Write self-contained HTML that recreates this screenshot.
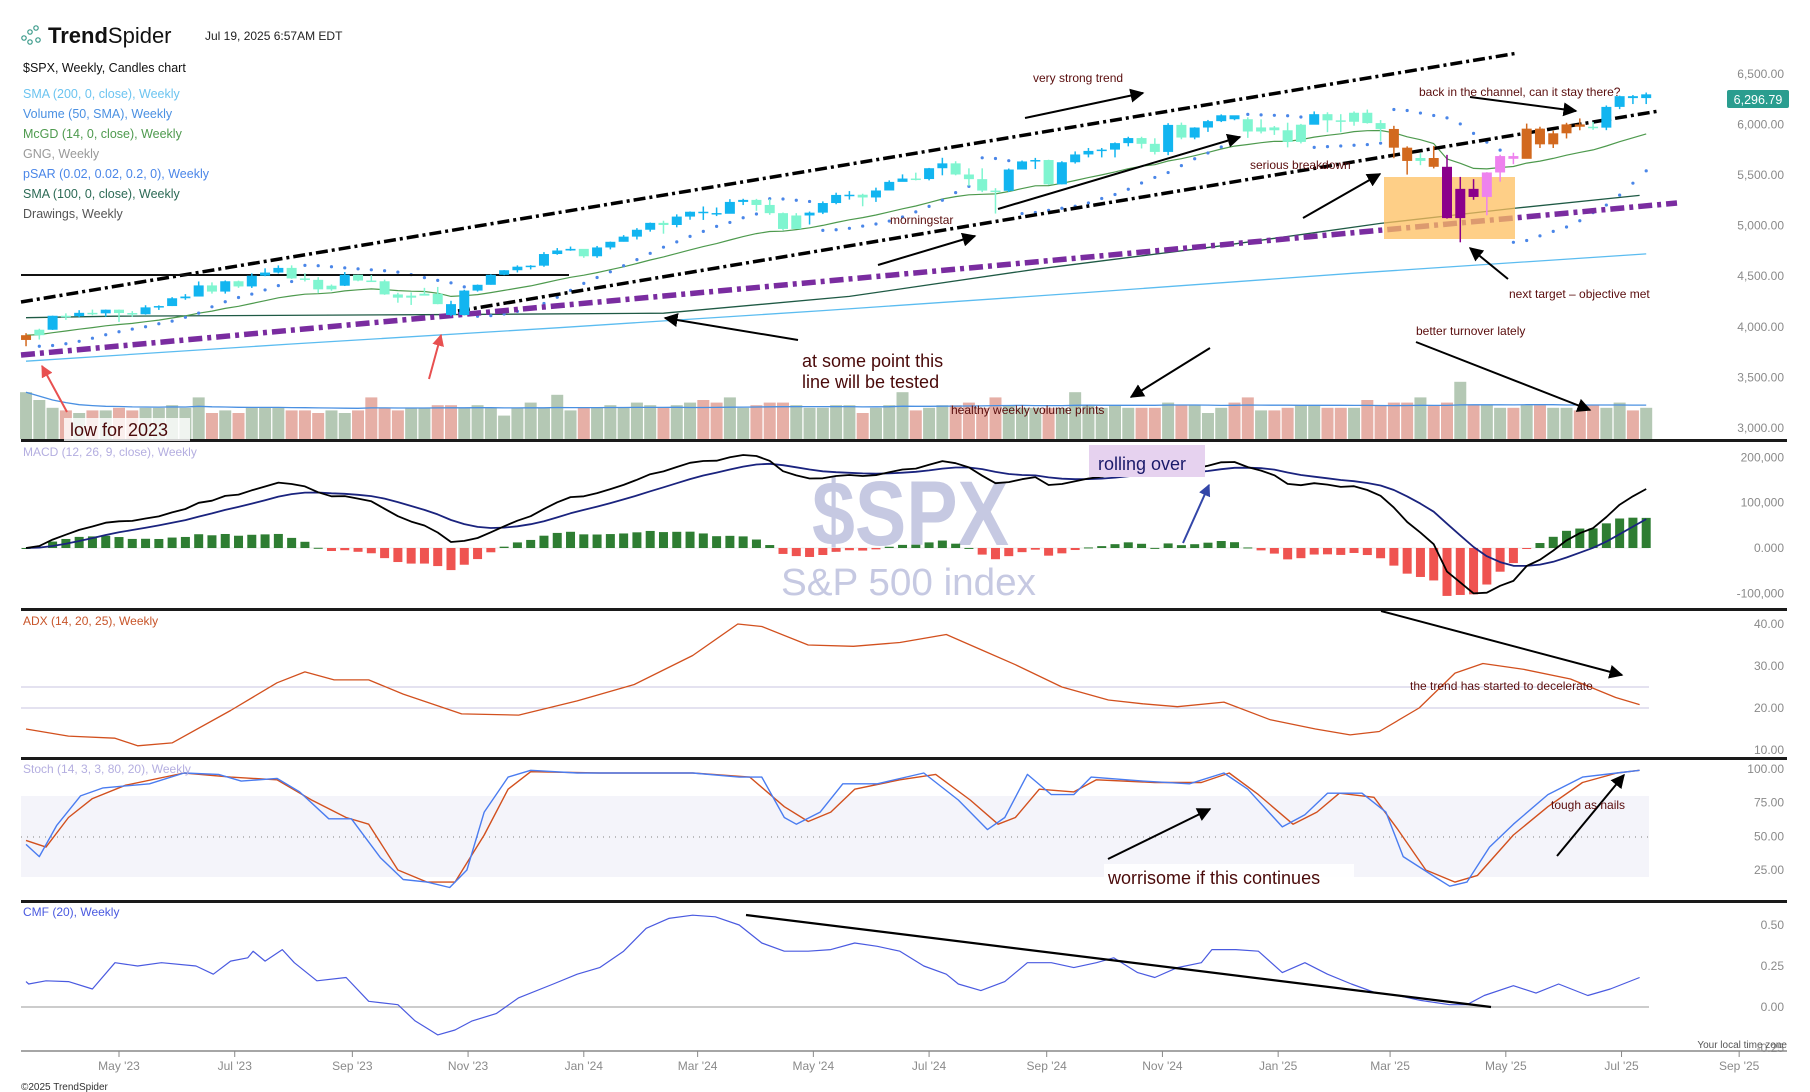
<!DOCTYPE html>
<html><head><meta charset="utf-8">
<style>
html,body{margin:0;padding:0;background:#fff;}
svg{display:block;font-family:"Liberation Sans",sans-serif;}
.lg{font-size:12.5px;}
.ax{font-size:12px;fill:#8a8a8a;}
.ann{font-size:12px;fill:#5a0d0d;}
.big{font-size:18px;fill:#4a0a0a;}
</style></head>
<body>
<svg id="chart" width="1810" height="1092" viewBox="0 0 1810 1092" xmlns="http://www.w3.org/2000/svg">
<defs>
<marker id="ah" viewBox="0 0 10 10" refX="9" refY="5" markerWidth="7" markerHeight="7" orient="auto-start-reverse"><path d="M0,0 L10,5 L0,10 z" fill="#000"/></marker>
<marker id="ahr" viewBox="0 0 10 10" refX="9" refY="5" markerWidth="6" markerHeight="6" orient="auto"><path d="M0,0 L10,5 L0,10 z" fill="#e85050"/></marker>
<marker id="ahb" viewBox="0 0 10 10" refX="9" refY="5" markerWidth="6" markerHeight="6" orient="auto"><path d="M0,0 L10,5 L0,10 z" fill="#3346a8"/></marker>
</defs>

<g>
<circle cx="24" cy="38" r="2.2" fill="none" stroke="#3a9a8a" stroke-width="1.2"/>
<circle cx="30" cy="32" r="2.2" fill="none" stroke="#3a9a8a" stroke-width="1.2"/>
<circle cx="36" cy="28" r="2.2" fill="none" stroke="#3a9a8a" stroke-width="1.2"/>
<circle cx="30" cy="42" r="2.2" fill="none" stroke="#3a9a8a" stroke-width="1.2"/>
<circle cx="38" cy="40" r="2.2" fill="none" stroke="#3a9a8a" stroke-width="1.2"/>
<text x="48" y="43" font-size="22" font-weight="bold" fill="#111">Trend<tspan font-weight="normal">Spider</tspan></text>
</g>
<text x="205" y="40" font-size="12" fill="#222">Jul 19, 2025 6:57AM EDT</text>
<text class="lg" x="23" y="72" fill="#111">$SPX, Weekly, Candles chart</text>
<text class="lg" x="23" y="98" fill="#6cc4f0">SMA (200, 0, close), Weekly</text>
<text class="lg" x="23" y="118" fill="#4a90e2">Volume (50, SMA), Weekly</text>
<text class="lg" x="23" y="138" fill="#4e9a4e">McGD (14, 0, close), Weekly</text>
<text class="lg" x="23" y="158" fill="#999">GNG, Weekly</text>
<text class="lg" x="23" y="178" fill="#4a86e8">pSAR (0.02, 0.02, 0.2, 0), Weekly</text>
<text class="lg" x="23" y="198" fill="#2c6a55">SMA (100, 0, close), Weekly</text>
<text class="lg" x="23" y="218" fill="#555">Drawings, Weekly</text>

<text x="812" y="545" font-size="92" font-weight="bold" fill="#c6c9e2" textLength="197" lengthAdjust="spacingAndGlyphs">$SPX</text>
<text x="781" y="595" font-size="38" fill="#c6c9e2" textLength="255" lengthAdjust="spacingAndGlyphs">S&amp;P 500 index</text>

<rect x="21" y="796" width="1628" height="81" fill="#f4f4fa"/>
<line x1="21" y1="837" x2="1649" y2="837" stroke="#999" stroke-dasharray="1,5" stroke-width="1.2"/>
<line x1="21" y1="687" x2="1649" y2="687" stroke="#c9c6e0" stroke-width="1"/>
<line x1="21" y1="708" x2="1649" y2="708" stroke="#c9c6e0" stroke-width="1"/>
<line x1="21" y1="1007" x2="1649" y2="1007" stroke="#bbb" stroke-width="1.5"/>
<line x1="21" y1="548" x2="1649" y2="548" stroke="#eee" stroke-width="1"/>

<g id="gMain"></g>
<g id="gInd"></g>

<rect x="21" y="439" width="1766" height="3" fill="#1a1a1a"/>
<rect x="21" y="608" width="1766" height="3" fill="#1a1a1a"/>
<rect x="21" y="757" width="1766" height="3" fill="#1a1a1a"/>
<rect x="21" y="900" width="1766" height="3" fill="#1a1a1a"/>
<line x1="21" y1="1051" x2="1787" y2="1051" stroke="#888" stroke-width="1.5"/>

<text x="23" y="456" font-size="12" fill="#b4aee0">MACD (12, 26, 9, close), Weekly</text>
<text x="23" y="625" font-size="12" fill="#c8552a">ADX (14, 20, 25), Weekly</text>
<text x="23" y="773" font-size="12" fill="#b4aee0">Stoch (14, 3, 3, 80, 20), Weekly</text>
<text x="23" y="916" font-size="12" fill="#4a5ae0">CMF (20), Weekly</text>

<g>
<line x1="21" y1="302" x2="1518" y2="53" stroke="#000" stroke-width="3.5" stroke-dasharray="12,4,3,4"/>
<line x1="458" y1="311" x2="1659" y2="111" stroke="#000" stroke-width="3.5" stroke-dasharray="12,4,3,4"/>
<line x1="21" y1="355" x2="1677" y2="203" stroke="#7a2ca0" stroke-width="5.5" stroke-dasharray="14,5,4,5"/>
<line x1="21" y1="275" x2="569" y2="275" stroke="#111" stroke-width="2"/>
<rect x="1384" y="177" width="131" height="62" fill="#fdbf5f" fill-opacity="0.75"/>
</g>
<g id="gCandles"></g>

<g stroke="#000" stroke-width="2" fill="none">
<line x1="1025" y1="118" x2="1143" y2="93" marker-end="url(#ah)"/>
<line x1="998" y1="209" x2="1240" y2="137" marker-end="url(#ah)"/>
<line x1="878" y1="265" x2="975" y2="236" marker-end="url(#ah)"/>
<line x1="1303" y1="218" x2="1380" y2="174" marker-end="url(#ah)"/>
<line x1="1470" y1="97" x2="1576" y2="111" marker-end="url(#ah)"/>
<line x1="1508" y1="279" x2="1470" y2="248" marker-end="url(#ah)"/>
<line x1="1416" y1="342" x2="1590" y2="410" marker-end="url(#ah)"/>
<line x1="798" y1="340" x2="665" y2="318" marker-end="url(#ah)"/>
<line x1="1210" y1="348" x2="1131" y2="397" marker-end="url(#ah)"/>
<line x1="1381" y1="611" x2="1622" y2="675" marker-end="url(#ah)"/>
<line x1="1108" y1="859" x2="1210" y2="809" marker-end="url(#ah)"/>
<line x1="1557" y1="856" x2="1624" y2="775" marker-end="url(#ah)"/>
<line x1="746" y1="915" x2="1491" y2="1007" stroke-width="2.2"/>
<line x1="67" y1="412" x2="42" y2="366" stroke="#e85050" marker-end="url(#ahr)"/>
<line x1="429" y1="379" x2="441" y2="335" stroke="#e85050" marker-end="url(#ahr)"/>
<line x1="1183" y1="543" x2="1209" y2="485" stroke="#3346a8" marker-end="url(#ahb)"/>
</g>
<text class="ann" x="1033" y="82">very strong trend</text>
<text class="ann" x="890" y="224">morningstar</text>
<text class="ann" x="1250" y="169">serious breakdown</text>
<text class="ann" x="1419" y="96">back in the channel, can it stay there?</text>
<text class="ann" x="1509" y="298">next target – objective met</text>
<text class="ann" x="1416" y="335">better turnover lately</text>
<text class="ann" x="951" y="414">healthy weekly volume prints</text>
<text class="big" x="802" y="367">at some point this</text>
<text class="big" x="802" y="388">line will be tested</text>
<rect x="64" y="418" width="126" height="23" fill="#fff" fill-opacity="0.8"/>
<text class="big" x="70" y="436">low for 2023</text>
<rect x="1089" y="445" width="116" height="32" fill="#e6d2ef"/>
<text x="1098" y="470" font-size="18" fill="#1a1a6a">rolling over</text>
<text class="ann" x="1410" y="690">the trend has started to decelerate</text>
<rect x="1104" y="864" width="250" height="24" fill="#fff" fill-opacity="0.85"/>
<text class="big" x="1108" y="884">worrisome if this continues</text>
<text class="ann" x="1551" y="809">tough as nails</text>

<g id="gAxis"></g>
<rect x="1727" y="90" width="62" height="18" rx="2" fill="#2a9d8f"/>
<text x="1758" y="104" font-size="12.5" fill="#fff" text-anchor="middle">6,296.79</text>
<text x="1787" y="1048" font-size="10" fill="#555" text-anchor="end">Your local time zone</text>
<text x="21" y="1090" font-size="10" fill="#333">©2025 TrendSpider</text>
</svg>
<script>
const closes=[3917,3971,4109,4105,4138,4133,4169,4136,4124,4192,
4205,4282,4299,4409,4348,4450,4399,4505,4536,4582,
4478,4464,4370,4406,4515,4457,4450,4320,4288,4308,
4327,4224,4117,4358,4415,4514,4559,4594,4604,4719,
4754,4770,4697,4784,4840,4891,4959,5027,5006,5089,
5137,5124,5117,5234,5254,5204,5123,4967,5100,5128,
5223,5303,5305,5278,5347,5432,5465,5460,5567,5615,
5505,5459,5346,5344,5554,5634,5648,5408,5626,5703,
5738,5751,5815,5865,5808,5728,5995,5870,5969,6032,
6090,6051,5930,5970,5942,5827,5997,6101,6040,6026,
6115,6013,5955,5770,5639,5668,5581,5074,5363,5283,
5525,5687,5660,5958,5803,5912,6000,5977,5968,6173,
6279,6260,6297];
const highs=[3937,3981,4110,4133,4164,4170,4170,4170,4155,4213,
4212,4293,4323,4448,4439,4458,4456,4528,4578,4607,
4607,4528,4490,4418,4541,4514,4511,4466,4336,4340,
4385,4394,4257,4366,4418,4519,4560,4607,4609,4738,
4778,4793,4755,4799,4842,4906,4975,5030,5048,5111,
5140,5189,5179,5261,5265,5264,5263,5129,5123,5139,
5239,5325,5341,5315,5375,5447,5506,5523,5570,5670,
5636,5566,5566,5370,5564,5643,5669,5651,5636,5733,
5767,5767,5822,5878,5878,5863,6012,6018,5972,6044,
6099,6085,6070,6050,5984,6017,6005,6128,6120,6101,
6128,6147,6043,5986,5783,5715,5786,5699,5481,5459,
5528,5700,5720,6008,5977,5938,6016,6059,6024,6187,
6284,6290,6315];
const lows=[3808,3874,3969,4069,4095,4114,4100,4048,4099,4120,
4167,4205,4267,4305,4328,4328,4385,4384,4500,4527,
4474,4448,4335,4356,4403,4450,4444,4316,4238,4216,
4311,4223,4104,4113,4348,4416,4510,4537,4567,4593,
4712,4751,4682,4682,4765,4842,4863,4940,4920,4983,
5058,5056,5094,5126,5203,5146,5107,4953,5011,5011,
5114,5211,5257,5191,5234,5358,5452,5447,5447,5497,
5497,5390,5331,5119,5332,5560,5559,5402,5407,5613,
5674,5674,5674,5783,5762,5703,5696,5853,5853,5926,
6023,6041,5867,5911,5896,5773,5812,6000,5923,5923,
5987,6008,5837,5666,5504,5597,5565,5069,4835,5255,
5102,5434,5607,5734,5767,5767,5861,5942,5946,5943,
6151,6201,6201];
const gngCodes="OABABABAAB"+"BBBBABABBB"+"AAAABAAAAA"+"AABBBBBBBB"+"BBABBBBBAB"+"BBBBBAAAAB"+"BBBABBBABB"+"AAAABBBABB"+"BBBBAABABB"+"BBAAAAABAA"+"AAAOOAOPPP"+"KKKOOOOOAB"+"BBB";
const volumes=[18,15,12,11,10,11,11,12,11,12,
12,13,12,16,10,11,10,12,12,12,
11,11,10,11,10,11,16,12,11,12,
12,13,13,12,13,12,9,12,14,12,
17,11,12,12,13,12,14,13,12,13,
14,15,14,16,12,13,14,14,13,12,
12,13,13,10,12,13,18,11,12,13,
13,14,12,16,13,12,12,12,12,18,
13,12,13,12,12,12,14,13,13,10,
12,14,16,11,11,12,13,13,12,12,
12,15,13,14,14,16,13,14,22,13,
13,12,12,13,13,12,12,11,13,12,
14,11,12];
const sma200W=[0,20,40,60,80,100,122];
const sma200V=[3660,3830,3990,4160,4340,4530,4720];
const sma100W=[0,6.7,30,48,62,76,90,102,112,121.5];
const sma100V=[4090,4105,4120,4134,4300,4568,4800,5022,5170,5298];
const adxW=[0,3.2,6.7,8.4,11,15.4,18.9,21,23.2,25.8,28.4,32.8,37.1,41.5,45.8,50.2,53.6,55.4,58.9,62.3,65.8,69.3,71.9,74.5,78,81.5,84.1,86.7,90.2,93.7,97.1,99.7,101.9,104.9,107.6,109.7,112.8,116.3,119.7,121.5];
const adxV=[15,13.3,12.8,11,11.7,19.4,26,28.6,26.7,26.7,23.3,18.6,18.3,21.7,25.6,32.5,40,39.4,35,34.7,35.6,37.5,33.9,30.3,25,21.9,21,20.3,21.4,17.2,15,13.6,14.4,20,28.3,30.6,29.2,26.9,22.5,20.8];
const stochKW=[0,1,2.3,4.1,5.8,9.3,11.9,14.5,16.2,18.9,20.6,22.8,24.5,26.7,28.4,30.2,31.9,33.2,34.5,36.3,38,41.5,45,50.2,53.7,55.4,57.1,58,59.8,61.5,64.1,67.6,70.2,72.4,73.7,75.4,77.2,78.9,80.2,84.1,87.6,90.2,92,94.6,96.3,98,100.6,102.4,103.7,105.9,107.2,108.5,110.2,112,114.6,117.2,119.8,121.5];
const stochKV=[44,35,58,80,86,89,97,96,91,93,83,63,63,34,18,16,12,25,68,94,99,97,97,97,94,94,64,59,68,89,89,97,77,55,64,96,81,81,94,91,89,97,85,57,66,82,82,68,35,21,13,16,42,59,81,94,97,99];
const stochDW=[0,1.5,3.2,5,7.5,11.9,15.4,18.9,21.5,24.1,25.8,28,30.2,32.3,34.5,36.3,38,43.2,50.2,54.5,57.1,58.9,60.6,62.4,65.8,68.5,71.1,73.2,74.5,76.3,78.9,80.6,85,88.5,90.6,92.8,95.4,97.2,98.9,101.5,103.3,105.4,107.6,109.3,112,114.6,117.2,119.8,121.5];
const stochDV=[47,42,64,78,88,97,94,92,77,64,59,25,16,16,51,85,98,97,97,94,72,61,68,85,92,96,77,59,64,85,83,92,90,90,97,81,59,68,82,79,55,25,16,21,51,72,90,97,99];
const cmfW=[0,0.2,1.5,3.2,5,6.7,8.4,10.2,12.8,14.1,15.4,16.7,17.1,18,19.3,20.2,21.9,24.1,25.8,28,29.3,31,32.3,33.6,35.4,37.1,39.7,41.5,43.2,45,46.7,48.4,50.2,51.9,53.7,55.4,57.1,58.9,60.6,62.4,64.1,65.8,67.6,69.3,70.2,71.9,73.7,75.4,77.2,78.9,80.6,81.9,83.7,85,86.7,88.5,89.3,91.1,92.8,94.6,96.3,98,99.8,101.5,103.3,105,107.2,108.5,109.8,112,113.7,115.4,117.6,119.3,121.5];
const cmfV=[.155,.14,.16,.155,.11,.27,.25,.27,.25,.2,.28,.3,.34,.28,.35,.27,.16,.18,.035,.014,-.085,-.17,-.14,-.085,-.04,.056,.14,.2,.24,.34,.48,.54,.56,.55,.5,.39,.34,.34,.35,.39,.37,.34,.25,.2,.14,.1,.155,.27,.27,.24,.27,.3,.21,.18,.24,.27,.35,.35,.34,.21,.27,.2,.14,.09,.07,.04,.014,.014,.07,.13,.085,.14,.07,.11,.18];
const priceTicks=[3000,3500,4000,4500,5000,5500,6000,6500];
const macdTicks=[-100000,0,100000,200000];
const macdTickLabels=["-100,000","0.000","100,000","200,000"];
const adxTicks=[10,20,30,40];
const stochTicks=[25,50,75,100];
const cmfTicks=[-0.25,0,0.25,0.5];
const monthLabels=["May '23","Jul '23","Sep '23","Nov '23","Jan '24","Mar '24","May '24","Jul '24","Sep '24","Nov '24","Jan '25","Mar '25","May '25","Jul '25","Sep '25"];
const monthDates=["2023-05-01","2023-07-01","2023-09-01","2023-11-01","2024-01-01","2024-03-01","2024-05-01","2024-07-01","2024-09-01","2024-11-01","2025-01-01","2025-03-01","2025-05-01","2025-07-01","2025-09-01"];

const NS="http://www.w3.org/2000/svg";
const x=w=>119+(w-7)*13.28;
const yP=p=>428-(p-3000)*0.1012;
const yM=v=>548-v*0.000453;
const yA=v=>624+(40-v)*4.2;
const yS=v=>769+(100-v)*1.347;
const yC=v=>1007-v*164;
const t0=Date.UTC(2023,2,13);
const wOfDate=s=>{const p=s.split('-');return (Date.UTC(+p[0],+p[1]-1,+p[2])-t0)/604800000;};
function mk(tag,parent,attrs){const e=document.createElementNS(NS,tag);for(const k in attrs)e.setAttribute(k,attrs[k]);parent.appendChild(e);return e;}
const gMain=document.getElementById('gMain'),gInd=document.getElementById('gInd'),gC=document.getElementById('gCandles'),gAx=document.getElementById('gAxis');
function poly(parent,W,V,fy,stroke,sw,name){
  const n=Math.min(W.length,V.length);let pts=[];
  for(let i=0;i<n;i++)pts.push(x(W[i]).toFixed(1)+','+fy(V[i]).toFixed(1));
  const e=mk('polyline',parent,{points:pts.join(' '),fill:'none',stroke:stroke,'stroke-width':sw,'stroke-linejoin':'round'});
  
  
  return e;
}
const N=closes.length;
const opens=closes.map((c,i)=>i?closes[i-1]:3870);

let volSma=[];
for(let i=0;i<N;i++){
  const up=closes[i]>=opens[i];
  const h=volumes[i]*2.6;
  const r=mk('rect',gMain,{x:x(i)-6,y:439-h,width:12,height:h,fill:up?'#b4c8b4':'#e6afa6'});
  
  
  let s=0,c=0;for(let j=Math.max(0,i-49);j<=i;j++){s+=volumes[j];c++;}volSma.push(s/c);
}
poly(gMain,volSma.map((v,i)=>i),volSma,v=>439-v*2.6,'#4a90e2',1.3,'volume-sma-line');

poly(gMain,sma200W,sma200V,yP,'#5bbcf0',1.3,'sma200-line');
poly(gMain,sma100W,sma100V,yP,'#1f5a45',1.3,'sma100-line');
let md=[closes[0]];
for(let i=1;i<N;i++){const p=closes[i],m=md[i-1];md.push(m+(p-m)/(0.6*14*Math.pow(p/m,4)));}
poly(gMain,md.map((v,i)=>i),md,yP,'#4e9a4e',1.2,'mcgd-line');

(function(){
  let up=true,af=0.02,ep=highs[0],sar=lows[0];
  for(let i=1;i<N;i++){
    sar=sar+af*(ep-sar);
    if(up){sar=Math.min(sar,lows[i-1]);if(lows[i]<sar){up=false;sar=ep;ep=lows[i];af=0.02;}else if(highs[i]>ep){ep=highs[i];af=Math.min(0.2,af+0.02);}}
    else{sar=Math.max(sar,highs[i-1]);if(highs[i]>sar){up=true;sar=ep;ep=highs[i];af=0.02;}else if(lows[i]<ep){ep=lows[i];af=Math.min(0.2,af+0.02);}}
    const d=mk('circle',gMain,{cx:x(i),cy:yP(sar),r:1.6,fill:'#4a86e8'});
    
    
  }
})();

const colMap={B:'#12b5f0',A:'#7ff5d0',O:'#d2691e',P:'#8b008b',K:'#ee82ee'};
for(let i=0;i<N;i++){
  const col=colMap[gngCodes[i]]||'#12b5f0';
  const o=opens[i],c=closes[i];
  const w=mk('line',gC,{x1:x(i),x2:x(i),y1:yP(highs[i]),y2:yP(lows[i]),stroke:col,'stroke-width':1.5});
  
  
  const top=yP(Math.max(o,c)),bot=yP(Math.min(o,c));
  const b=mk('rect',gC,{x:x(i)-5,y:top,width:10,height:Math.max(1.5,bot-top),fill:col});
  
  
}

function ema(arr,n){const k=2/(n+1);let out=[arr[0]];for(let i=1;i<arr.length;i++)out.push(arr[i]*k+out[i-1]*(1-k));return out;}
const e12=ema(closes,12),e26=ema(closes,26);
const macd=e12.map((v,i)=>(v-e26[i])*1000);
const sig=ema(macd,9);
for(let i=0;i<N;i++){
  const h=macd[i]-sig[i];const y0=yM(0),y1=yM(h);
  const r=mk('rect',gInd,{x:x(i)-4.5,y:Math.min(y0,y1),width:9,height:Math.max(1,Math.abs(y1-y0)),fill:h>=0?'#2e7d32':'#ef5350'});
  
  
}
const idx=macd.map((v,i)=>i);
poly(gInd,idx,sig,yM,'#1a237e',1.8,'macd-signal-line');
poly(gInd,idx,macd,yM,'#000',1.8,'macd-line');

poly(gInd,adxW,adxV,yA,'#d2501e',1.3,'adx-line');
poly(gInd,stochDW,stochDV,yS,'#d2501e',1.4,'stoch-d-line');
poly(gInd,stochKW,stochKV,yS,'#4a7cf0',1.4,'stoch-k-line');
poly(gInd,cmfW,cmfV,yC,'#4a5ae0',1.2,'cmf-line');

function lbl(y,txt,name){const t=mk('text',gAx,{x:1784,y:y+4,'text-anchor':'end','class':'ax'});t.textContent=txt;
  
  }
priceTicks.forEach(v=>lbl(yP(v),v.toLocaleString('en-US',{minimumFractionDigits:2}),'price-tick'));
macdTicks.forEach((v,i)=>lbl(yM(v),macdTickLabels[i],'macd-tick'));
adxTicks.forEach(v=>lbl(yA(v),v.toFixed(2),'adx-tick'));
stochTicks.forEach(v=>lbl(yS(v),v.toFixed(2),'stoch-tick'));
cmfTicks.forEach(v=>lbl(yC(v),v.toFixed(2),'cmf-tick'));
monthLabels.forEach((m,i)=>{
  const xx=x(wOfDate(monthDates[i]));
  const tk=mk('line',gAx,{x1:xx,x2:xx,y1:1051,y2:1057,stroke:'#888'});
  
  
  const t=mk('text',gAx,{x:xx,y:1070,'text-anchor':'middle','class':'ax','font-size':'11'});
  t.textContent=m;
  
  
});
</script>
</body></html>
